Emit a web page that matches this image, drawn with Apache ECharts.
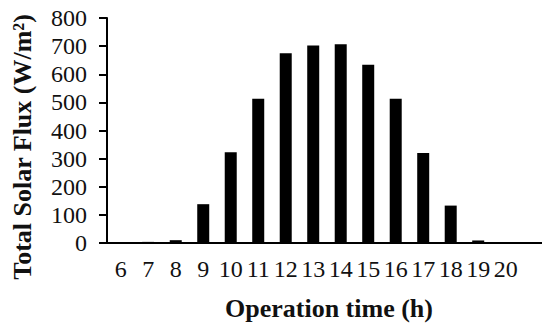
<!DOCTYPE html>
<html>
<head>
<meta charset="utf-8">
<script src="https://cdn.jsdelivr.net/npm/echarts@6/dist/echarts.min.js"></script>
<style>
	html, body { margin: 0; padding: 0; background: #fff; }
	#myChart { width: 542px; height: 326px; }
</style>
</head>
<body>
<div id="myChart"></div>
<script>
var hours = [6, 7, 8, 9, 10, 11, 12, 13, 14, 15, 16, 17, 18, 19, 20];
var flux = [0, 4, 10, 138, 323, 513, 675, 702, 707, 634, 513, 320, 133, 9, 0];
var yTicks = [0, 100, 200, 300, 400, 500, 600, 700, 800];

(function() {
	var font = '"Liberation Serif", "Times New Roman", serif';
	var barData = hours.map(function(h, i) {
		return [h, flux[i]];
	});
	var myChart = echarts.init(document.getElementById('myChart'), null, { renderer: 'svg' });
	var option = {
		animation: false,
		grid: {
			left: 107,
			right: 0,
			top: 18,
			bottom: 81
		},
		xAxis: [{
			type: 'value',
			min: 5.5,
			max: 21.32,
			//x轴刻度文字
			axisLabel: {
				customValues: hours,
				margin: 14,
				color: '#111',
				fontFamily: font,
				fontSize: 24
			},
			axisTick: { show: false },
			splitLine: { show: false },
			axisLine: {
				onZero: false,
				lineStyle: { color: '#000', width: 2 }
			},
			name: 'Operation time (h)',
			nameLocation: 'middle',
			nameGap: 52,
			nameTextStyle: {
				color: '#111',
				fontFamily: font,
				fontWeight: 'bold',
				fontSize: 26,
				padding: [0, 0, 0, 9]
			}
		}, {
			//顶部边线
			type: 'value',
			position: 'top',
			min: 5.5,
			max: 21.32,
			axisLabel: { show: false },
			axisTick: { show: false },
			splitLine: { show: false },
			axisLine: {
				show: true,
				lineStyle: { color: '#000', width: 2 }
			}
		}],
		yAxis: {
			type: 'value',
			min: yTicks[0],
			max: yTicks[yTicks.length - 1],
			interval: 100,
			axisLabel: {
				margin: 20,
				color: '#111',
				fontFamily: font,
				fontSize: 24
			},
			axisTick: {
				show: true,
				inside: false,
				length: 8,
				lineStyle: { color: '#000', width: 2 }
			},
			axisLine: {
				show: true,
				lineStyle: { color: '#000', width: 2 }
			},
			splitLine: { show: false }
		},
		graphic: [{
			type: 'text',
			x: 22,
			y: 147,
			rotation: Math.PI / 2,
			style: {
				text: 'Total Solar Flux (W/m²)',
				fill: '#111',
				font: 'bold 26px ' + font,
				align: 'center',
				verticalAlign: 'middle'
			}
		}],
		series: [{
			type: 'bar',
			xAxisIndex: 0,
			barWidth: 12,
			itemStyle: { color: '#000' },
			data: barData
		}]
	};
	myChart.setOption(option);
})();
</script>
</body>
</html>
